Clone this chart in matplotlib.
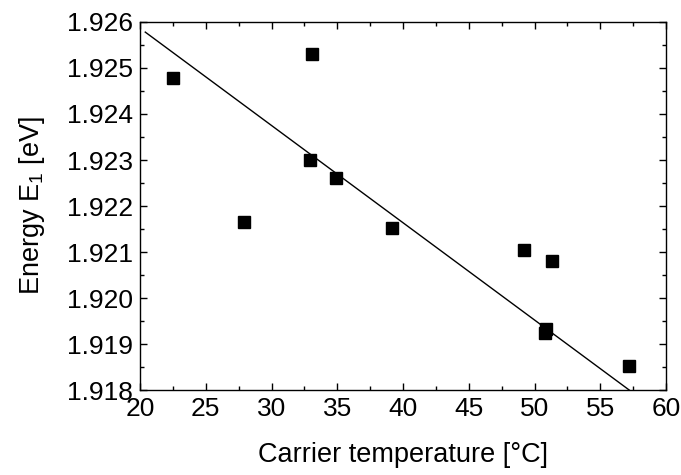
import matplotlib.pyplot as plt
from matplotlib.ticker import MultipleLocator, FormatStrFormatter

# measured points
temperature = [22.5, 27.9, 32.9, 33.1, 34.9, 39.2, 49.2, 50.8, 50.9, 51.3, 57.2]
energy = [1.92478, 1.92165, 1.92299, 1.92530, 1.92260, 1.92153, 1.92104,
          1.91924, 1.91932, 1.92080, 1.91852]

# linear fit line (end points)
fit_x = [20.4, 57.2]
fit_y = [1.92578, 1.918]

plt.rcParams['font.family'] = ['Liberation Sans', 'DejaVu Sans']
plt.rcParams['mathtext.fontset'] = 'custom'
plt.rcParams['mathtext.rm'] = 'Liberation Sans'

fig = plt.figure(figsize=(6.81, 4.75), dpi=100)
ax = fig.add_axes([0.2056, 0.1789, 0.7724, 0.7748])

ax.plot(fit_x, fit_y, color='black', linewidth=1.0)
ax.plot(temperature, energy, 's', color='black', markersize=8.5)

ax.set_xlim(20, 60)
ax.set_ylim(1.918, 1.926)
ax.xaxis.set_major_locator(MultipleLocator(5))
ax.xaxis.set_minor_locator(MultipleLocator(2.5))
ax.yaxis.set_major_locator(MultipleLocator(0.001))
ax.yaxis.set_minor_locator(MultipleLocator(0.0005))
ax.yaxis.set_major_formatter(FormatStrFormatter('%.3f'))

ax.tick_params(which='both', direction='in', top=True, right=True, width=1.0)
ax.tick_params(which='major', length=5, labelsize=19, pad=5)
ax.tick_params(which='minor', length=3)
for s in ax.spines.values():
    s.set_linewidth(1.0)

ax.set_xlabel('Carrier temperature [°C]', size=19.5, labelpad=15)
ax.set_ylabel(r'Energy E$_\mathregular{1}$ [eV]', size=19.5, labelpad=14)

plt.savefig('out.png', dpi=100)
